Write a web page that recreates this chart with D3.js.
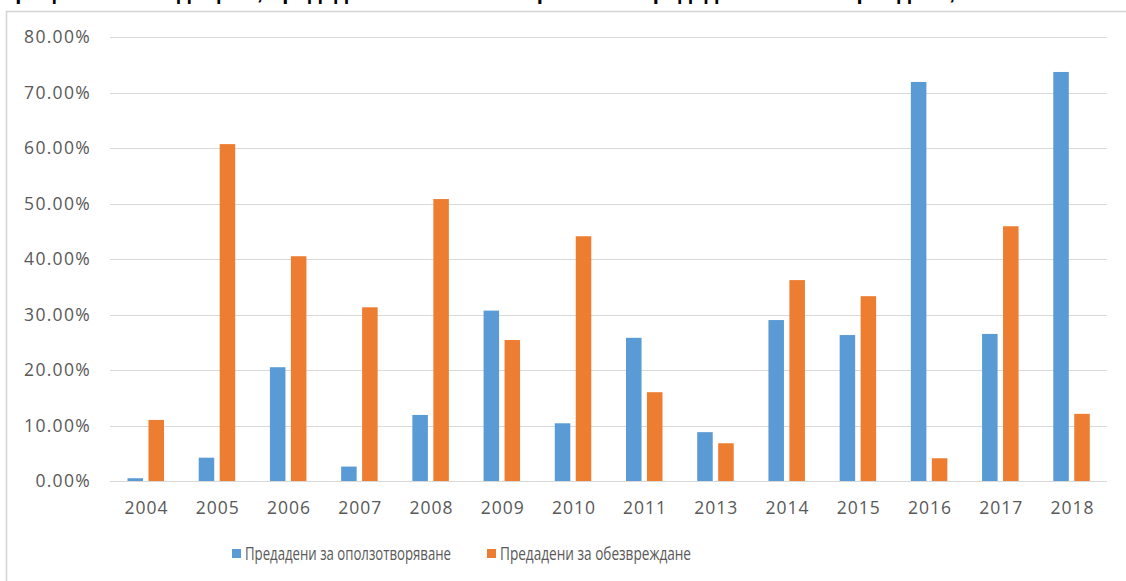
<!DOCTYPE html>
<html>
<head>
<meta charset="utf-8">
<script src="https://cdn.jsdelivr.net/npm/d3@7"></script>
<style>
  body { margin: 0; background: #fff; }
  svg { display: block; font-family: 'Open Sans', sans-serif; }
</style>
</head>
<body>
<svg></svg>
<script>
// Chart data
const years = ['2004', '2005', '2006', '2007', '2008', '2009', '2010', '2011', '2013', '2014', '2015', '2016', '2017', '2018']
const recovered = [0.5, 4.2, 20.5, 2.6, 11.9, 30.7, 10.4, 25.8, 8.8, 29.0, 26.3, 71.9, 26.5, 73.7]
const disposed = [11.0, 60.7, 40.5, 31.3, 50.8, 25.4, 44.1, 16.0, 6.8, 36.2, 33.3, 4.1, 45.9, 12.1]
const seriesNames = ['Предадени за оползотворяване', 'Предадени за обезвреждане']
const yTicks = [0, 10, 20, 30, 40, 50, 60, 70, 80]

// Canvas setup
let width = 1126
let height = 581
let svg = d3.select('svg')
svg.attr('width', width)
svg.attr('height', height)

let colors = ['#5b9bd5', '#ed7d31']

// title line of the page, cropped by the top edge like in the source
svg.append('text')
    .attr('x', 2)
    .attr('y', -1)
    .attr('font-family', 'Liberation Sans, Arial, sans-serif')
    .attr('font-weight', 'bold')
    .attr('font-size', 22)
    .attr('fill', '#000')
    .text('процент от отпадъците, предадени за оползотворяване и предадени за обезвреждане, %')

// frame
svg.append('path')
    .attr('d', 'M6.5,' + height + 'V11.5H' + width)
    .attr('fill', 'none')
    .attr('stroke', '#d4d4d4')
    .attr('stroke-width', 1.5)

// Define scales
let xScale = d3.scaleBand()
    .domain(years)
    .range([110, 1107])

let x1 = d3.scaleBand()
    .domain([0, 1])
    .range([17.5, 54])
    .paddingInner(0.26)

let yScale = d3.scaleLinear()
    .domain([0, 80])
    .range([481, 37])

// gridlines
svg.append('g')
    .selectAll('line')
    .data(yTicks)
    .enter()
    .append('line')
    .attr('x1', 110)
    .attr('x2', 1107)
    .attr('y1', (d) => Math.round(yScale(d)) + 0.5)
    .attr('y2', (d) => Math.round(yScale(d)) + 0.5)
    .attr('stroke', '#d9d9d9')
    .attr('stroke-width', 1)

// y axis labels
let yAxis = d3.axisLeft(yScale)
    .tickValues(yTicks)
    .tickFormat((d) => d.toFixed(2) + '%')
    .tickSize(0)
    .tickPadding(0)

svg.append('g')
    .attr('transform', 'translate(91,0)')
    .call(yAxis)
    .call((g) => g.select('.domain').remove())
    .call((g) => g.selectAll('text')
        .attr('fill', '#595959')
        .attr('font-size', 17.5)
        .attr('letter-spacing', 1.3)
        .attr('font-family', 'Open Sans, sans-serif'))

// x axis labels
let xAxis = d3.axisBottom(xScale)
    .tickSize(0)
    .tickPadding(0)

svg.append('g')
    .attr('transform', 'translate(1,502)')
    .call(xAxis)
    .call((g) => g.select('.domain').remove())
    .call((g) => g.selectAll('text')
        .attr('fill', '#595959')
        .attr('font-size', 17.5)
        .attr('letter-spacing', 1)
        .attr('font-family', 'Open Sans, sans-serif'))

// bars
let groups = svg.append('g')
    .selectAll('g')
    .data(years)
    .enter()
    .append('g')
    .attr('transform', (d) => 'translate(' + xScale(d) + ',0)')

groups.selectAll('rect')
    .data((d, i) => [recovered[i], disposed[i]])
    .enter()
    .append('rect')
    .attr('x', (d, j) => x1(j))
    .attr('width', x1.bandwidth())
    .attr('y', (d) => yScale(d))
    .attr('height', (d) => yScale(0) - yScale(d))
    .attr('fill', (d, j) => colors[j])

// legend
let legendX = [232, 487]
let legendW = [206, 191]
let legend = svg.append('g')
    .selectAll('g')
    .data(seriesNames)
    .enter()
    .append('g')
    .attr('transform', (d, i) => 'translate(' + legendX[i] + ',0)')

legend.append('rect')
    .attr('x', 0)
    .attr('y', 549)
    .attr('width', 9)
    .attr('height', 9)
    .attr('fill', (d, i) => colors[i])

legend.append('text')
    .attr('x', 13)
    .attr('y', 560)
    .attr('fill', '#595959')
    .attr('font-size', 17.5)
    .attr('textLength', (d, i) => legendW[i])
    .attr('lengthAdjust', 'spacingAndGlyphs')
    .text((d) => d)
</script>
</body>
</html>
